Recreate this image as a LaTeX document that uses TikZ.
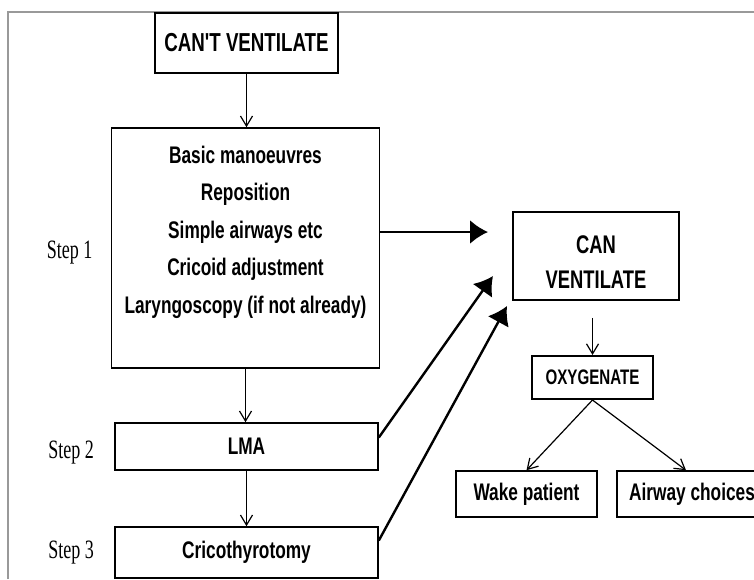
\documentclass[tikz,border=0pt]{standalone}
\usepackage{fontspec}
\usepackage{tikz}
\usetikzlibrary{calc}
\usetikzlibrary{arrows.meta}
\usetikzlibrary{positioning}
\newfontfamily\boxfont[FakeStretch=0.72]{Liberation Sans}
\newfontfamily\stepfont[FakeStretch=0.68]{Liberation Serif}

\begin{document}
\begin{tikzpicture}[
x=1pt, y=-1pt,
MyBox/.style={draw=black, line width=1.6pt, inner sep=0pt, font=\boxfont\bfseries\fontsize{24}{37.5}\selectfont},
StepLabel/.style={font=\stepfont\fontsize{26.5}{28}\selectfont, inner sep=0pt},
ThinArrow/.style={line width=1.2pt, -{Straight Barb[length=10pt, width=12pt]}},
BoldArrow/.style={line width=2.4pt, -{Latex[length=18pt, width=24pt]}},
Frame/.style={draw=gray!80, line width=1.6pt}
]
\useasboundingbox (0,0) rectangle (754,579);

% frame lines
\draw[Frame] (8,579) -- (8,12) -- (754,12);

% left column
\node[MyBox, line width=2.6pt, font=\boxfont\bfseries\fontsize{26}{30}\selectfont, minimum width=183pt, minimum height=60pt] (cant) at (246.5,43) {CAN'T VENTILATE};

\node[MyBox, minimum width=268pt, minimum height=240pt,
  label={[yshift=16pt, align=center, font=\boxfont\bfseries\fontsize{24}{37.5}\selectfont]center:Basic manoeuvres\\Reposition\\Simple airways etc\\Cricoid adjustment\\Laryngoscopy (if not already)}] (basic) at (245.5,248) {};

\node[MyBox, minimum width=263pt, minimum height=47pt] (lma) at (246.5,446.5) {LMA};
\node[MyBox, minimum width=263pt, minimum height=51pt] (crico) at (246.5,552.5) {Cricothyrotomy};

\node[StepLabel, left=18pt of basic, yshift=-5pt] (step1) {Step 1};
\node[StepLabel, left=20pt of lma, yshift=-6pt] (step2) {Step 2};
\node[StepLabel, left=20pt of crico, yshift=0pt] (step3) {Step 3};

% right column
\node[MyBox, minimum width=166pt, minimum height=88pt,
  label={[yshift=-6pt, align=center, font=\boxfont\bfseries\fontsize{25.5}{35}\selectfont]center:CAN\\VENTILATE}] (canvent) at (596,256) {};

\node[MyBox, line width=2pt, font=\boxfont\bfseries\fontsize{21}{24}\selectfont, minimum width=121pt, minimum height=43pt] (oxy) at (592.5,377.5) {OXYGENATE};

\node[MyBox, minimum width=141pt, minimum height=46pt] (wake) at (526.5,494) {Wake patient};
\node[MyBox, minimum width=150pt, minimum height=46pt] (airway) at (692,494) {Airway choices};

% free arrow ends
\coordinate (tipA) at (488,232);
\coordinate (tipB) at (493,276);
\coordinate (tipC) at (507,306);

% connectors
\draw[ThinArrow] (cant.south) -- (cant.south |- basic.north);
\draw[ThinArrow] (basic.south) -- (basic.south |- lma.north);
\draw[ThinArrow] (lma.south) -- (lma.south |- crico.north);

\draw[BoldArrow] (basic.east |- tipA) -- (tipA);
\draw[BoldArrow] ($(lma.east)+(0,-9)$) -- (tipB);
\draw[BoldArrow] ($(crico.east)+(0,-12)$) -- (tipC);

\draw[ThinArrow] ([yshift=-17pt]canvent.south -| oxy.north) -- (oxy.north);
\draw[ThinArrow] (oxy.south) -- (wake.north);
\draw[ThinArrow] (oxy.south) -- ([xshift=-6pt]airway.north);

\end{tikzpicture}
\end{document}
